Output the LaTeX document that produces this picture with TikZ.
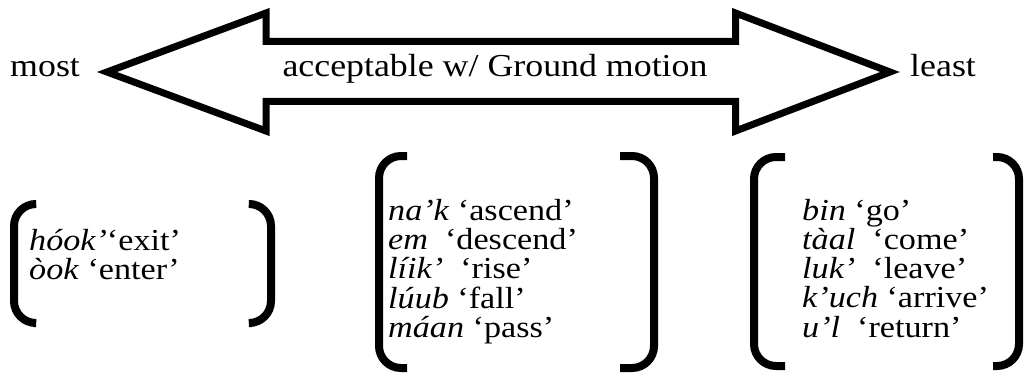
\documentclass[tikz,border=0pt]{standalone}
\usepackage{fontspec}
\setmainfont{Liberation Serif}[FakeStretch=1.12]
\begin{document}
\begin{tikzpicture}[x=1pt,y=-1pt,
  bigarrow/.style={draw=black,line width=7pt,miter limit=20,fill=white},
  brack/.style={draw=black,line width=8pt,rounded corners=22pt},
  label/.style={inner sep=0pt,font=\fontsize{32}{36}\selectfont},
  glosses/.style={inner sep=0pt,font=\fontsize{30.5}{27}\selectfont}]
\useasboundingbox (0,0) rectangle (1024,377);

% double-headed block arrow
\draw[bigarrow] (107,72) -- (266,13) -- (266,41.5) -- (735.5,41.5) -- (735.5,13)
  -- (890,72) -- (735.5,131) -- (735.5,101.5) -- (266,101.5) -- (266,131) -- cycle;
\node[label,anchor=base] (scale) at (495,77) {acceptable w/ Ground motion};
\node[label,anchor=base west] (most) at (10,77) {most};
\node[label,anchor=base west] (least) at (910,77) {least};

% group 1
\draw[brack] (33,204) -- (14,204) -- (14,323) -- (33,323);
\draw[brack] (252,204) -- (271,204) -- (271,323) -- (252,323);
\node[glosses,anchor=base west] (g1) at (29,250)
  {\begin{tabular}[t]{@{}l@{}}\textit{hóok’}‘exit’\\ \textit{òok} ‘enter’\end{tabular}};

% group 2
\draw[brack] (407,156) -- (379,156) -- (379,368) -- (407,368);
\draw[brack] (620,156) -- (654,156) -- (654,368) -- (620,368);
\node[glosses,anchor=base west] (g2) at (388,220)
  {\begin{tabular}[t]{@{}l@{}}\textit{na’k} ‘ascend’\\ \textit{em}\ \ ‘descend’\\
   \textit{líik’}\ \ ‘rise’\\ \textit{lúub} ‘fall’\\ \textit{máan} ‘pass’\end{tabular}};

% group 3
\draw[brack] (785,157) -- (754,157) -- (754,366) -- (785,366);
\draw[brack] (993,157) -- (1019,157) -- (1019,366) -- (993,366);
\node[glosses,anchor=base west] (g3) at (802,220)
  {\begin{tabular}[t]{@{}l@{}}\textit{bin} ‘go’\\ \textit{tàal}\ \ ‘come’\\
   \textit{luk’}\ \ ‘leave’\\ \textit{k’uch} ‘arrive’\\ \textit{u’l}\ \ ‘return’\end{tabular}};
\end{tikzpicture}
\end{document}
